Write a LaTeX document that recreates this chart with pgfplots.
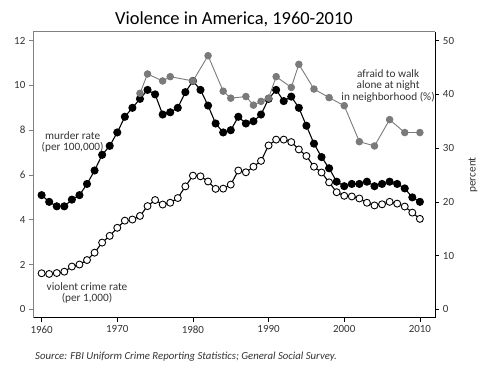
\documentclass[border=0pt]{standalone}
\usepackage{fontspec}
\setmainfont{Carlito}
\usepackage{pgfplots}
\pgfplotsset{compat=1.18}
\definecolor{fearc}{HTML}{7A7A7A}
\definecolor{txt}{HTML}{333333}
\definecolor{axg}{HTML}{808080}

\begin{document}
\fontsize{11.3}{11.5}\selectfont
\begin{tikzpicture}[x=1bp,y=1bp]
\path[use as bounding box] (0,0) rectangle (495,376);
\pgfplotsset{
  common/.style={
    at={(33.3bp,58.3bp)}, anchor=south west,
    scale only axis, width=401.7bp, height=286bp,
    xmin=1958.9, xmax=2012,
    tick align=outside, major tick length=4bp,
    /pgf/number format/assume math mode=true,
    /pgf/number format/1000 sep={},
    tick label style={font=\fontsize{11}{12}\selectfont, text=txt},
    clip=false,
  }
}
\begin{axis}[common,
  ymin=-0.375, ymax=12.40,
  axis x line*=bottom, axis y line*=left,
  x axis line style={black, line width=0.9pt},
  y axis line style={axg, line width=0.7pt},
  xtick={1960,1970,...,2010}, ytick={0,2,...,12},
  xtick style={black, line width=0.6pt},
  ytick style={axg, line width=0.6pt},
]
\addplot[black, line width=1.1pt, mark=*, mark size=3.5pt, mark options={fill=black}] coordinates {
(1960,5.1)(1961,4.8)(1962,4.6)(1963,4.6)(1964,4.9)(1965,5.1)(1966,5.6)(1967,6.2)(1968,6.9)(1969,7.3)
(1970,7.9)(1971,8.6)(1972,9.0)(1973,9.4)(1974,9.8)(1975,9.6)(1976,8.7)(1977,8.8)(1978,9.0)(1979,9.7)
(1980,10.2)(1981,9.8)(1982,9.1)(1983,8.3)(1984,7.9)(1985,8.0)(1986,8.6)(1987,8.3)(1988,8.4)(1989,8.7)
(1990,9.4)(1991,9.8)(1992,9.3)(1993,9.5)(1994,9.0)(1995,8.2)(1996,7.4)(1997,6.8)(1998,6.3)(1999,5.7)
(2000,5.5)(2001,5.6)(2002,5.6)(2003,5.7)(2004,5.5)(2005,5.6)(2006,5.7)(2007,5.6)(2008,5.4)(2009,5.0)
(2010,4.8)};
\addplot[black, line width=1.1pt, mark=*, mark size=3.5pt, mark options={fill=white, line width=0.9pt}] coordinates {
(1960,1.61)(1961,1.58)(1962,1.62)(1963,1.68)(1964,1.91)(1965,2.00)(1966,2.20)(1967,2.53)(1968,2.98)(1969,3.28)
(1970,3.64)(1971,3.96)(1972,4.01)(1973,4.17)(1974,4.61)(1975,4.88)(1976,4.68)(1977,4.76)(1978,4.97)(1979,5.49)
(1980,5.97)(1981,5.94)(1982,5.71)(1983,5.38)(1984,5.39)(1985,5.57)(1986,6.20)(1987,6.12)(1988,6.37)(1989,6.63)
(1990,7.32)(1991,7.58)(1992,7.58)(1993,7.47)(1994,7.14)(1995,6.85)(1996,6.37)(1997,6.11)(1998,5.67)(1999,5.23)
(2000,5.07)(2001,5.04)(2002,4.95)(2003,4.76)(2004,4.64)(2005,4.69)(2006,4.80)(2007,4.72)(2008,4.59)(2009,4.32)
(2010,4.04)};
\node[align=center, text=txt] at (axis cs:1964.1,7.47) {murder rate\\(per 100,000)};
\node[align=center, text=txt] at (axis cs:1966.0,0.73) {violent crime rate\\(per 1,000)};
\node[align=center, text=txt] at (axis cs:2005.8,9.99) {afraid to walk\\alone at night\\in neighborhood (\%)};
\end{axis}
\begin{axis}[common,
  ymin=-1.5625, ymax=51.67,
  axis x line*=top, axis y line*=right,
  x axis line style={axg, line width=0.7pt},
  y axis line style={black, line width=0.9pt},
  xtick=\empty, ytick={0,10,...,50},
  ytick style={black, line width=0.6pt},
]
\addplot[fearc, line width=0.9pt, mark=*, mark size=3.3pt, mark options={fill=fearc}] coordinates {
(1973,40.2)(1974,43.8)(1976,42.5)(1977,43.3)(1980,42.5)(1982,47.2)(1984,40.6)(1985,39.3)(1987,39.6)
(1988,38.0)(1989,38.7)(1990,39.3)(1991,43.3)(1993,41.3)(1994,45.6)(1996,41.0)(1998,39.4)(2000,37.9)
(2002,31.2)(2004,30.4)(2006,35.3)(2008,32.9)(2010,32.9)};
\end{axis}
\node[text=black, font=\fontsize{18.5}{20}\selectfont] at (234,357) {Violence in America, 1960-2010};
\node[rotate=90, text=txt] at (473,201) {percent};
\node[anchor=west, text=txt, font=\fontsize{10.8}{12}\selectfont\itshape, inner sep=0pt] at (35,19) {Source: FBI Uniform Crime Reporting Statistics; General Social Survey.};
\end{tikzpicture}
\end{document}
